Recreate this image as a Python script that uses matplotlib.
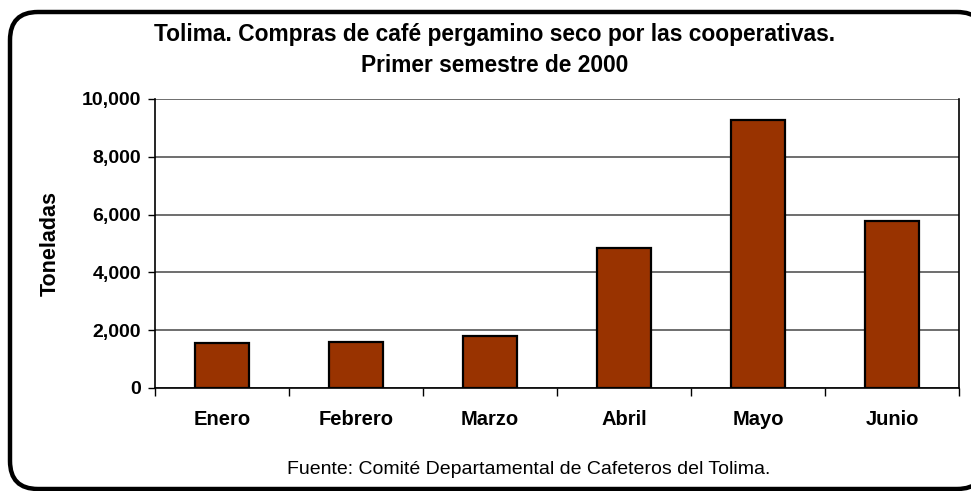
import matplotlib
matplotlib.use("Agg")
import matplotlib.pyplot as plt
import numpy as np
from matplotlib.patches import FancyBboxPatch

plt.rcParams['font.family'] = ['Liberation Sans', 'DejaVu Sans']

meses = ['Enero', 'Febrero', 'Marzo', 'Abril', 'Mayo', 'Junio']
toneladas = [1560, 1600, 1810, 4840, 9270, 5780]
y_ticks = [0, 2000, 4000, 6000, 8000, 10000]

fig = plt.figure(figsize=(9.71, 4.91), dpi=100)

# background frame, pixel coordinates
bg = fig.add_axes([0, 0, 1, 1], zorder=0)
bg.set_xlim(0, 971)
bg.set_ylim(491, 0)
bg.axis('off')
box = FancyBboxPatch((10, 12), 975, 477, boxstyle="round,pad=0,rounding_size=28",
                     fc='white', ec='black', lw=3.2)
bg.add_patch(box)

ax = fig.add_axes([155/971, 1 - 388/491, (959-155)/971, (388-99)/491], zorder=1)
x = np.arange(len(meses))
ax.bar(x, toneladas, width=0.41, color='#993300', edgecolor='black', linewidth=1.6, zorder=3)

ax.set_xlim(-0.5, len(meses) - 0.5)
ax.set_ylim(0, 10000)
ax.set_yticks(y_ticks)
ax.set_yticklabels([f'{v:,}' for v in y_ticks], fontsize=14, fontweight='bold')
ax.yaxis.grid(True, color='#555555', linewidth=1.2, zorder=0)
ax.set_axisbelow(True)

ax.set_xticks(x)
ax.set_xticklabels(meses, fontsize=14.5, fontweight='bold')
ax.tick_params(axis='x', length=0, pad=16)
ax.set_xticks(np.arange(len(meses) + 1) - 0.5, minor=True)
ax.tick_params(axis='x', which='minor', length=6, width=1, direction='out')
ax.tick_params(axis='y', length=5, width=1, direction='out', pad=5)

ax.spines['top'].set_visible(False)
ax.spines['left'].set_linewidth(1.2)
ax.spines['bottom'].set_linewidth(1.2)
ax.spines['right'].set_linewidth(1.2)

ax.set_ylabel('Toneladas', fontsize=15.5, fontweight='bold', labelpad=15)

fig.text(495/971, 1 - 34/491, 'Tolima. Compras de café pergamino seco por las cooperativas.',
         ha='center', va='center', fontsize=16.4, fontweight='bold')
fig.text(495/971, 1 - 65/491, 'Primer semestre de 2000',
         ha='center', va='center', fontsize=16.4, fontweight='bold')
fig.text(529/971, 1 - 470/491, 'Fuente: Comité Departamental de Cafeteros del Tolima.',
         ha='center', va='center', fontsize=14)

fig.savefig('out.png', dpi=100)
